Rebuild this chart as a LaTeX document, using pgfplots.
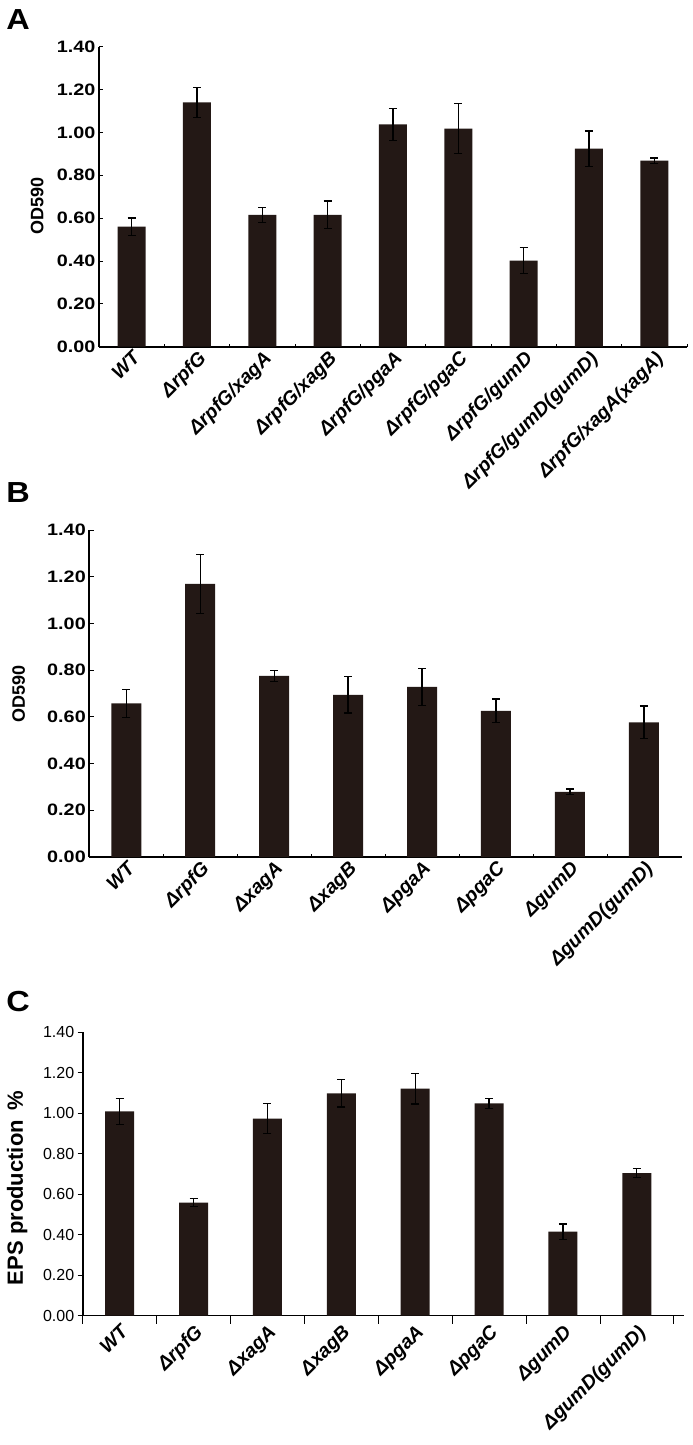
\documentclass[border=0pt]{standalone}
\usepackage{fontspec}
\setmainfont{Liberation Sans}
\newfontfamily\widefont{Liberation Sans}[FakeStretch=1.2]
\newfontfamily\letterfont{Liberation Sans}[FakeStretch=1.12]
\usepackage{pgfplots}
\pgfplotsset{compat=1.18}
\usepackage{pgfplotstable}
\definecolor{barc}{HTML}{231815}

\pgfplotstableread{
x y e
1 0.56 0.040
2 1.14 0.070
3 0.615 0.035
4 0.615 0.065
5 1.037 0.074
6 1.018 0.116
7 0.402 0.060
8 0.924 0.082
9 0.868 0.013
}\dataA

\pgfplotstableread{
x y e
1 0.658 0.060
2 1.169 0.125
3 0.775 0.024
4 0.694 0.078
5 0.728 0.078
6 0.626 0.050
7 0.279 0.012
8 0.576 0.070
}\dataB

\pgfplotstableread{
x y e
1 1.008 0.064
2 0.558 0.020
3 0.972 0.074
4 1.097 0.067
5 1.120 0.075
6 1.048 0.024
7 0.414 0.038
8 0.703 0.023
}\dataC

\pgfplotsset{
  panel/.style={
    scale only axis,
    axis x line=bottom, axis y line=left,
    axis line style={-, line width=1.6pt},
    ymin=0, ymax=1.4,
    ytick={0,0.2,0.4,0.6,0.8,1.0,1.2,1.4},
    yticklabels={0.00,0.20,0.40,0.60,0.80,1.00,1.20,1.40},
    xtick=data,
    major x tick style={draw=none},
    minor tick style={line width=0.6pt, black},
    major tick style={line width=0.8pt, black},
    ybar, bar shift=0pt,
    xticklabel style={rotate=45, anchor=north east, font=\bfseries\itshape\fontsize{19.5}{19.5}\selectfont, inner sep=2pt},
    yticklabel style={font=\widefont\bfseries\fontsize{16.5}{16.5}\selectfont},
    ylabel style={font=\bfseries\fontsize{18}{18}\selectfont, anchor=center},
    clip=false,
  },
  bars/.style={
    fill=barc, draw=none,
    error bars/.cd, y dir=both, y explicit,
    error bar style={line width=1.3pt, black},
    error mark options={rotate=90, mark size=4pt, line width=1.3pt, black},
  },
}

\begin{document}
\begin{tikzpicture}[x=1pt,y=1pt]
\path[use as bounding box] (0,0) rectangle (693,-1445);

\node[font=\letterfont\bfseries\fontsize{29}{29}\selectfont] at (18,-20) {A};
\node[font=\letterfont\bfseries\fontsize{29}{29}\selectfont] at (18,-493) {B};
\node[font=\letterfont\bfseries\fontsize{29}{29}\selectfont] at (18,-1002) {C};

% Panel A
\begin{axis}[panel,
  at={(99pt,-346.7pt)}, anchor=south west,
  width=588pt, height=300pt,
  xmin=0.5, xmax=9.5,
  minor xtick={0.5,1.5,2.5,3.5,4.5,5.5,6.5,7.5,8.5,9.5},
  tick align=inside,
  bar width=28pt,
  xticklabels={WT,ΔrpfG,ΔrpfG/xagA,ΔrpfG/xagB,ΔrpfG/pgaA,ΔrpfG/pgaC,ΔrpfG/gumD,ΔrpfG/gumD(gumD),ΔrpfG/xagA(xagA)},
  ylabel={OD590},
  ylabel style={at={(axis description cs:-0.105,0.469)}},
  x axis line style={line width=2.2pt},
]
\addplot[bars] table[x=x,y=y,y error=e]{\dataA};
\end{axis}

% Panel B
\begin{axis}[panel,
  at={(89.3pt,-857pt)}, anchor=south west,
  width=593pt, height=327pt,
  xmin=0.5, xmax=8.52,
  minor xtick={0.5,1.5,2.5,3.5,4.5,5.5,6.5,7.5},
  tick align=inside,
  bar width=30pt,
  xticklabels={WT,ΔrpfG,ΔxagA,ΔxagB,ΔpgaA,ΔpgaC,ΔgumD,ΔgumD(gumD)},
  ylabel={OD590},
  ylabel style={at={(axis description cs:-0.119,0.5)}},
  x axis line style={line width=2.2pt},
]
\addplot[bars] table[x=x,y=y,y error=e]{\dataB};
\end{axis}

% Panel C
\begin{axis}[panel,
  at={(82.7pt,-1315.5pt)}, anchor=south west,
  width=601pt, height=283.5pt,
  xmin=0.5, xmax=8.635,
  minor xtick={0.5,1.5,2.5,3.5,4.5,5.5,6.5,7.5,8.5},
  tick align=outside,
  minor tick length=8pt, major tick length=5pt,
  bar width=29pt,
  xticklabels={WT,ΔrpfG,ΔxagA,ΔxagB,ΔpgaA,ΔpgaC,ΔgumD,ΔgumD(gumD)},
  yticklabel style={font=\fontsize{16}{16}\selectfont},
  ylabel={EPS production \,\%},
  ylabel style={at={(axis description cs:-0.109,0.45)}, font=\bfseries\fontsize{22}{22}\selectfont},
]
\addplot[bars] table[x=x,y=y,y error=e]{\dataC};
\end{axis}
\end{tikzpicture}
\end{document}
